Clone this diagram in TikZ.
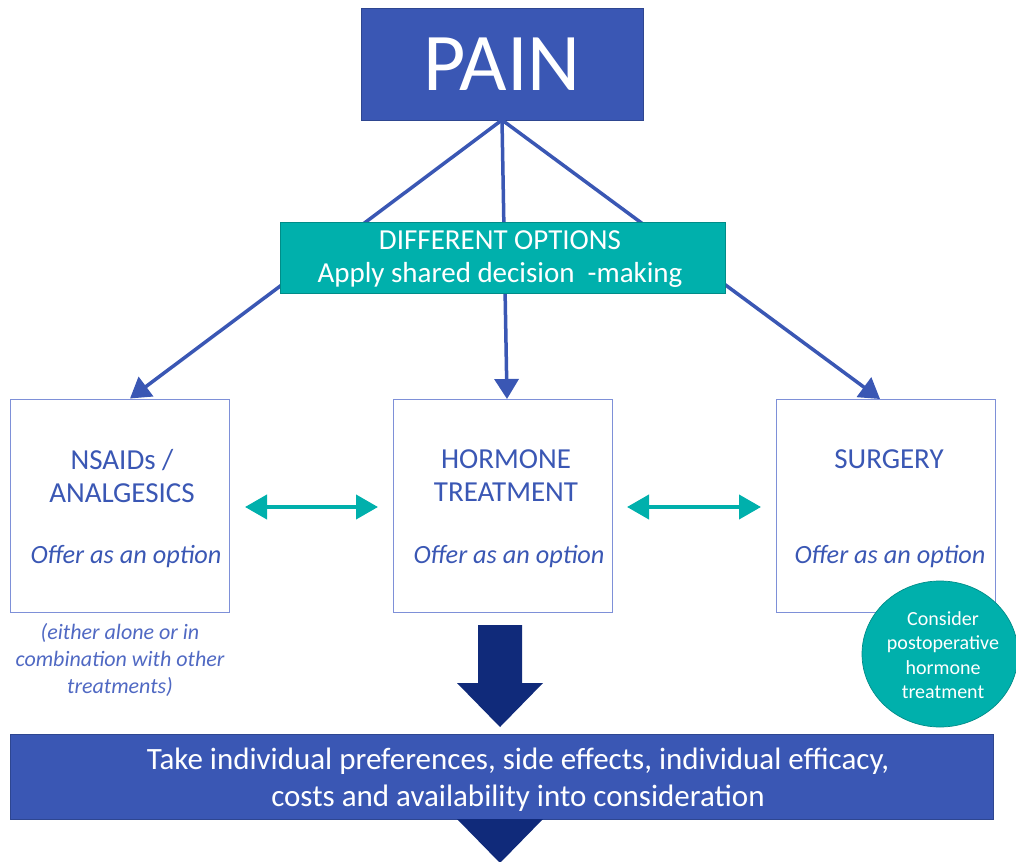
\documentclass[tikz,border=0pt]{standalone}
\usepackage{fontspec}
\setmainfont{Carlito}
\usetikzlibrary{arrows.meta,shapes.geometric}
\definecolor{mblue}{RGB}{58,87,180}
\definecolor{teal2}{RGB}{0,176,172}
\definecolor{tealdk}{RGB}{0,140,136}
\definecolor{lborder}{RGB}{126,144,216}
\definecolor{navy}{RGB}{16,42,122}
\definecolor{notec}{RGB}{80,105,195}
\tikzset{
  conn/.style={draw=mblue,line width=3.5pt,-{Triangle[length=20pt,width=24pt]}},
  dbl/.style={draw=teal2,line width=4pt,{Triangle[length=22pt,width=24pt]}-{Triangle[length=22pt,width=24pt]}},
  optbox/.style={draw=lborder,line width=1pt,minimum width=219pt,minimum height=213pt,inner sep=0pt},
  ttl/.style={text=mblue,font=\fontsize{29}{33}\selectfont,align=center},
  offer/.style={text=mblue,font=\fontsize{26.3}{30}\selectfont\itshape},
}
\begin{document}
\begin{tikzpicture}[x=1pt,y=-1pt]
\useasboundingbox (0,0) rectangle (1016,861);
% PAIN
\node[fill=mblue,draw=mblue!80!black,line width=0.5pt,minimum width=282pt,minimum height=112pt,inner sep=0pt,text=white,font=\fontsize{82}{84}\selectfont] (pain) at (502,64) {PAIN};
\coordinate (ps) at (502,120);
% option boxes
\node[optbox] (ns) at (119.5,505.5) {};
\node[optbox] (hor) at (502.5,505.5) {};
\node[optbox] (sur) at (885.5,505.5) {};
% connectors (behind teal box)
\draw[conn] (ps) -- (ns.north -| 130,0);
\draw[conn] (ps) -- (507,399);
\draw[conn] (ps) -- (880,399);
% teal box
\node[fill=teal2,draw=tealdk,line width=0.5pt,minimum width=445pt,minimum height=71pt,inner sep=0pt] (opt) at (502.5,257.5) {};
\node[text=white,font=\fontsize{29}{33}\selectfont,align=center] (optt) at (500,259) {DIFFERENT OPTIONS\\Apply shared decision\ \ -making};
% box texts
\node[ttl] (nst) at (122,476) {NSAIDs /\\ANALGESICS};
\node[ttl] (hort) at (506,476) {HORMONE\\TREATMENT};
\node[ttl] (surt) at (889,459) {SURGERY};
\node[offer] (nso) at (126,557) {Offer as an option};
\node[offer] (horo) at (509,557) {Offer as an option};
\node[offer] (suro) at (890,557) {Offer as an option};
% double arrows
\coordinate (d1a) at (245,507); \coordinate (d1b) at (378,507);
\coordinate (d2a) at (627,507); \coordinate (d2b) at (761,507);
\draw[dbl] (d1a) -- (d1b);
\draw[dbl] (d2a) -- (d2b);
% note
\node[text=notec,font=\fontsize{22}{27}\selectfont\itshape,align=center] (note) at (120,660) {(either alone or in\\combination with other\\treatments)};
% circle
\node[ellipse,fill=teal2,draw=tealdk,line width=0.7pt,minimum width=156pt,minimum height=146pt,inner sep=0pt] (circ) at (940,654) {};
\node[text=white,font=\fontsize{20}{24.5}\selectfont,align=center] (circt) at (943,655) {Consider\\postoperative\\hormone\\treatment};
% big down arrow
\fill[navy] (478,625) -- (522,625) -- (522,683) -- (543,683) -- (500,727) -- (457,683) -- (478,683) -- cycle;
% bottom box
\node[fill=mblue,draw=mblue!80!black,line width=0.5pt,minimum width=983pt,minimum height=85pt,inner sep=0pt] (bot) at (501.5,776.5) {};
\node[text=white,font=\fontsize{31}{37}\selectfont,align=center] (bott) at (518,780) {Take individual preferences, side effects, individual efficacy,\\costs and availability into consideration};
% bottom triangle
\fill[navy] (457,819) -- (543,819) -- (500,863) -- cycle;
\end{tikzpicture}
\end{document}
